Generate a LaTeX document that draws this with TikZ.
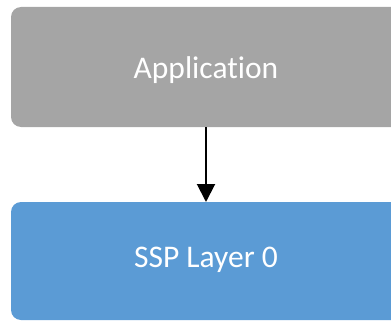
\documentclass[tikz,border=0pt]{standalone}
\usepackage{fontspec}
\setmainfont{Carlito}[Ligatures={NoCommon}]
\usetikzlibrary{arrows.meta}
\definecolor{appgray}{HTML}{A5A5A5}
\definecolor{sspblue}{HTML}{5B9BD5}
\tikzset{
  box/.style={rounded corners=10pt, minimum width=390pt, inner sep=0pt, outer sep=0pt},
  boxtext/.style={text=white, font=\fontsize{31.5}{36}\selectfont, anchor=base, inner sep=0pt},
  conn/.style={line width=2pt, -{Triangle[length=18pt,width=18pt]}}
}
\begin{document}
\begin{tikzpicture}[x=1pt,y=-1pt]
\useasboundingbox (0,0) rectangle (391,321);
\clip (0,0) rectangle (391,321);
\node[box, fill=appgray, minimum height=120pt] (app) at (206,67) {};
\node[box, fill=sspblue, minimum height=118pt] (ssp) at (206,261) {};
\node[boxtext] (apptxt) at (206,78) {Application};
\node[boxtext] (ssptxt) at (206,267) {SSP Layer 0};
\draw[conn] (app.south) -- (ssp.north);
\end{tikzpicture}
\end{document}
